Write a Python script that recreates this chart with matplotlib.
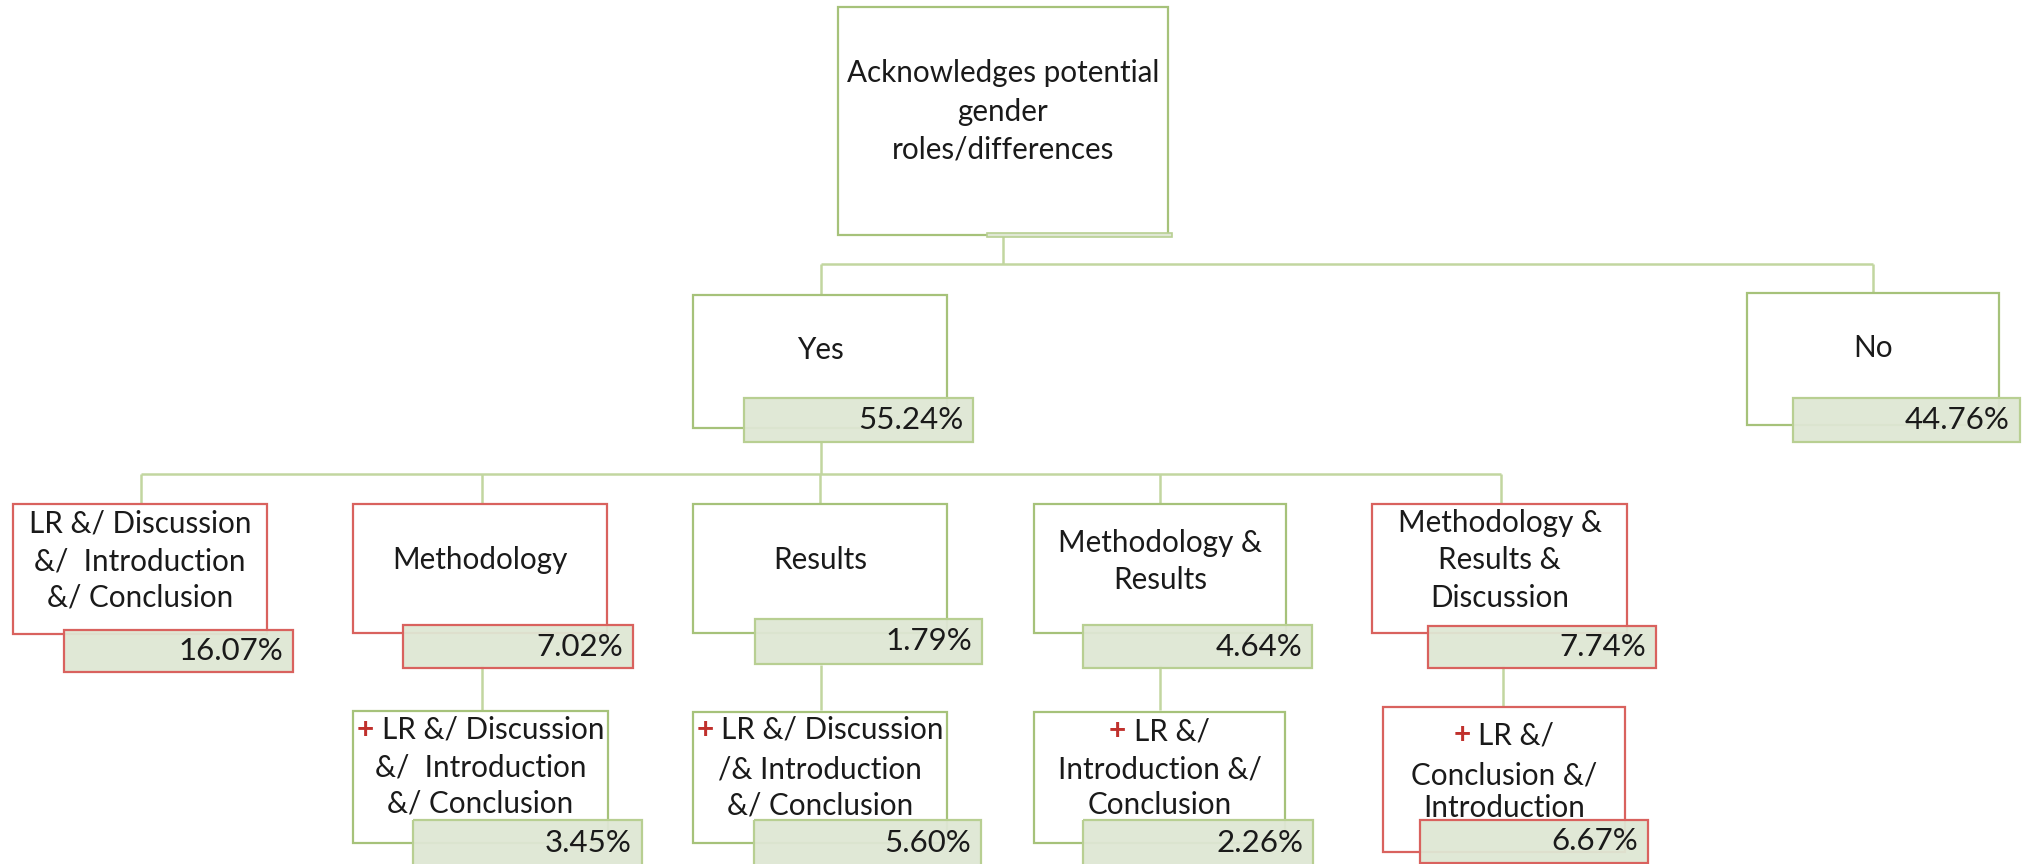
import matplotlib.pyplot as plt
from matplotlib.patches import Rectangle

# -------------------------
# DATA
# -------------------------

root_label = ["Acknowledges potential", "gender", "roles/differences"]

level1_labels = [["Yes"], ["No"]]
level1_values = ["55.24%", "44.76%"]

level2_labels = [
    ["LR &/ Discussion", "&/  Introduction", "&/ Conclusion"],
    ["Methodology"],
    ["Results"],
    ["Methodology &", "Results"],
    ["Methodology &", "Results &", "Discussion"],
]
level2_values = ["16.07%", "7.02%", "1.79%", "4.64%", "7.74%"]
level2_flagged = [True, True, False, False, True]

level3_labels = [
    ["LR &/ Discussion", "&/  Introduction", "&/ Conclusion"],
    ["LR &/ Discussion", "/& Introduction", "&/ Conclusion"],
    ["LR &/", "Introduction &/", "Conclusion"],
    ["LR &/", "Conclusion &/", "Introduction"],
]
level3_values = ["3.45%", "5.60%", "2.26%", "6.67%"]
level3_flagged = [False, False, False, True]

# -------------------------
# LAYOUT (pixel coords, y down)
# -------------------------

GREEN = "#a6c27a"
LINE = "#c2d6a0"
RED = "#d9625e"
PCT_FILL = "#dfe7d4"
PCT_GREEN = "#b8cf92"
TXT = "#1a1a1a"
FONT = "Lato"
FS = 21.3
FS_PCT = 22.5

root_box = (838, 7, 1168, 235)
root_text_y = [73, 112, 150]

l1_boxes = [(693, 295, 947, 428), (1747, 293, 1999, 425)]
l1_pct = [(744, 398, 973, 442), (1793, 398, 2020, 442)]
l1_text_y = [350, 348]

l2_boxes = [(13, 504, 267, 634), (353, 504, 607, 633), (693, 504, 947, 633),
            (1034, 504, 1286, 633), (1372, 504, 1627, 633)]
l2_pct = [(64, 630, 293, 672), (403, 625, 633, 668), (755, 619, 982, 664),
          (1083, 625, 1312, 668), (1428, 626, 1656, 668)]
l2_text_y = [[523, 561, 598], [560], [560], [543, 580], [523, 560, 598]]

l3_boxes = [(353, 711, 608, 843), (693, 712, 947, 843),
            (1034, 712, 1285, 843), (1383, 707, 1625, 852)]
l3_pct = [(413, 820, 642, 866), (754, 820, 981, 866),
          (1083, 820, 1313, 866), (1420, 820, 1648, 863)]
l3_text_y = [[730, 768, 804], [730, 770, 805], [731, 769, 805], [735, 775, 808]]

# -------------------------
# FUNCTIONS
# -------------------------

fig = plt.figure(figsize=(20.22, 8.64), dpi=100)
ax = fig.add_axes([0, 0, 1, 1])
ax.set_xlim(0, 2022)
ax.set_ylim(864, 0)
ax.axis("off")


def rect(box, edge, face="white", alpha=1.0, z=2, lw=1.6):
    x0, y0, x1, y1 = box
    ax.add_patch(Rectangle((x0, y0), x1 - x0, y1 - y0, facecolor=face,
                           edgecolor="none", alpha=alpha, zorder=z))
    ax.add_patch(Rectangle((x0, y0), x1 - x0, y1 - y0, facecolor="none",
                           edgecolor=edge, lw=lw, zorder=z + 0.1))


def line(xs, ys):
    ax.plot(xs, ys, color=LINE, lw=1.8, zorder=1, solid_capstyle="butt")


def node(box, pct_box, lines, ys, value, flagged=False, plus=False):
    edge = RED if flagged else GREEN
    rect(box, edge, z=2)
    cx = (box[0] + box[2]) / 2
    for i, (txt, y) in enumerate(zip(lines, ys)):
        if plus and i == 0:
            t = ax.text(cx, y, "+ " + txt, ha="center", va="center",
                        fontsize=FS, family=FONT, color=TXT, zorder=3)
            fig.canvas.draw()
            bb = t.get_window_extent()
            inv = ax.transData.inverted()
            x0 = inv.transform((bb.x0, bb.y0))[0]
            x1 = inv.transform((bb.x1, bb.y0))[0]
            t.set_text(txt)
            t.set_ha("right")
            t.set_x(x1)
            ax.text(x0, y, "+", ha="left", va="center", fontsize=FS,
                    family=FONT, fontweight="bold", color="#c0302c", zorder=3)
        else:
            ax.text(cx, y, txt, ha="center", va="center", fontsize=FS,
                    family=FONT, color=TXT, zorder=3)
    pedge = RED if flagged else PCT_GREEN
    rect(pct_box, pedge, face=PCT_FILL, alpha=0.95, z=4)
    ax.text(pct_box[2] - 10, (pct_box[1] + pct_box[3]) / 2, value,
            ha="right", va="center", fontsize=FS_PCT, family=FONT,
            color=TXT, zorder=5)


# -------------------------
# CONNECTORS
# -------------------------

line([1003, 1003], [235, 264])
line([821, 1873], [264, 264])
line([821, 821], [264, 295])
line([1873, 1873], [264, 293])

line([821, 821], [442, 474])
line([141, 1501], [474, 474])
for x in [141, 482, 820, 1160, 1501]:
    line([x, x], [474, 504])

for x in [482, 821, 1160, 1503]:
    line([x, x], [665, 710])

# -------------------------
# NODES
# -------------------------

rect(root_box, GREEN, z=2)
for txt, y in zip(root_label, root_text_y):
    ax.text(1003, y, txt, ha="center", va="center", fontsize=FS,
            family=FONT, color=TXT, zorder=3)
rect((987, 233, 1172, 237), PCT_GREEN, face=PCT_FILL, z=4, lw=1.2)

for b, p, lab, ys, v in zip(l1_boxes, l1_pct, level1_labels, l1_text_y, level1_values):
    node(b, p, lab, [ys], v)

for b, p, lab, ys, v, f in zip(l2_boxes, l2_pct, level2_labels, l2_text_y,
                               level2_values, level2_flagged):
    node(b, p, lab, ys, v, flagged=f)

for b, p, lab, ys, v, f in zip(l3_boxes, l3_pct, level3_labels, l3_text_y,
                               level3_values, level3_flagged):
    node(b, p, lab, ys, v, flagged=f, plus=True)

fig.savefig("out.png", dpi=100)
